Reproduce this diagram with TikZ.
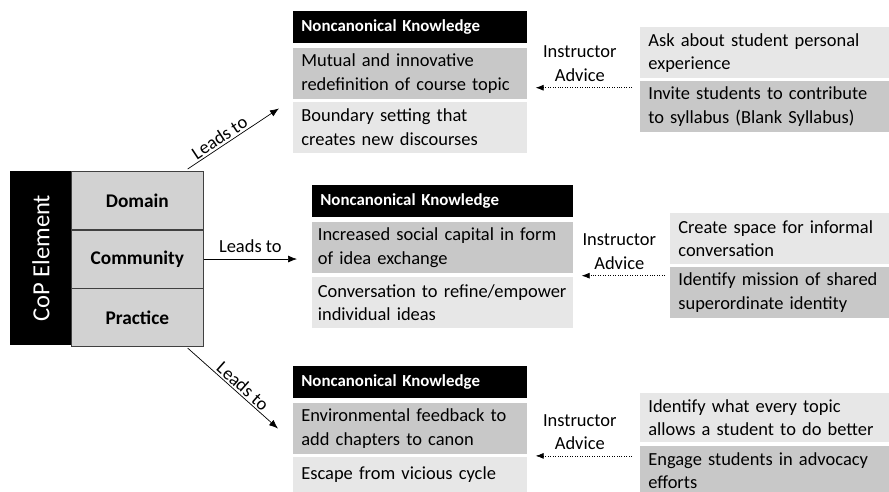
\documentclass[tikz,border=0pt]{standalone}
\usepackage{fontspec}
\setmainfont{Carlito}
\usetikzlibrary{arrows.meta, positioning}
\definecolor{rowDark}{RGB}{200, 200, 200}
\definecolor{rowLight}{RGB}{231, 231, 231}
\definecolor{cellGray}{RGB}{210, 210, 210}
\tikzset{
    % knowledge column
    headbox/.style={
        rectangle,
        fill=black,
        text=white,
        font=\fontsize{9.6}{11}\selectfont\bfseries,
        align=left,
        inner xsep=0.16cm,
        minimum height=0.64cm,
        text width=#1
    },
    darkbox/.style={
        rectangle,
        fill=rowDark,
        font=\fontsize{10.5}{13.4}\selectfont,
        align=left,
        inner xsep=0.16cm,
        minimum height=1.02cm,
        text width=#1
    },
    lightbox/.style={
        darkbox=#1,
        fill=rowLight
    },
    % CoP block
    copcell/.style={
        rectangle,
        draw=black!75,
        fill=cellGray,
        font=\fontsize{11}{13}\selectfont\bfseries,
        minimum width=2.64cm,
        minimum height=1.16cm
    },
    leadarrow/.style={
        -{Latex[length=1.8mm, width=1.4mm]},
        thin,
        font=\fontsize{10.5}{12}\selectfont
    },
    advarrow/.style={
        -{Latex[length=1.6mm, width=1.2mm]},
        densely dotted,
        thin,
        shorten >=0.16cm,
        font=\fontsize{10.5}{13.4}\selectfont
    }
}

\begin{document}
\begin{tikzpicture}[x=0.02cm, y=-0.02cm, node distance=0.04cm]
    \useasboundingbox (0,0) rectangle (889,492);

    % CoP element block
    \node[rectangle, fill=black, anchor=north west, minimum width=1.22cm,
          minimum height=3.48cm, inner sep=0] (cop) at (10,171) {};
    \node[rotate=90, text=white, font=\fontsize{14}{16}\selectfont] (coplabel) at (cop) {CoP Element};
    \node[copcell, anchor=north west] (domain) at (71,171) {Domain};
    \node[copcell, below=0cm of domain] (community) {Community};
    \node[copcell, below=0cm of community] (practice) {Practice};

    % top knowledge group
    \node[headbox=4.36cm, anchor=north west] (hdrA) at (293,11) {Noncanonical Knowledge};
    \node[darkbox=4.36cm, below=0.08cm of hdrA] (kA1) {Mutual and innovative\\redefinition of course topic};
    \node[lightbox=4.36cm, below=of kA1] (kA2) {Boundary setting that\\creates new discourses};
    \node[lightbox=4.66cm, anchor=north west] (advA1) at (640,27) {Ask about student personal\\experience};
    \node[darkbox=4.66cm, below=of advA1] (advA2) {Invite students to contribute\\to syllabus (Blank Syllabus)};

    % middle knowledge group
    \node[headbox=4.9cm, anchor=north west] (hdrB) at (312,185) {Noncanonical Knowledge};
    \node[darkbox=5.0cm, inner xsep=0.11cm, below=0.08cm of hdrB] (kB1) {Increased social capital in form\\of idea exchange};
    \node[lightbox=5.0cm, inner xsep=0.11cm, below=0.06cm of kB1] (kB2) {Conversation to refine/empower\\individual ideas};
    \node[lightbox=4.06cm, anchor=north west] (advB1) at (670,213) {Create space for informal\\conversation};
    \node[darkbox=4.06cm, below=of advB1] (advB2) {Identify mission of shared\\superordinate identity};

    % bottom knowledge group
    \node[headbox=4.36cm, anchor=north west] (hdrC) at (293,366) {Noncanonical Knowledge};
    \node[darkbox=4.36cm, below=0.08cm of hdrC] (kC1) {Environmental feedback to\\add chapters to canon};
    \node[lightbox=4.36cm, minimum height=0.7cm, below=of kC1] (kC2) {Escape from vicious cycle};
    \node[lightbox=4.66cm, minimum height=0.92cm, anchor=north west] (advC1) at (640,393) {Identify what every topic\\allows a student to do better};
    \node[darkbox=4.66cm, minimum height=0.98cm, below=0.08cm of advC1] (advC2) {Engage students in advocacy\\efforts};

    % leads-to arrows
    \draw[leadarrow] ([xshift=-0.32cm,yshift=0.04cm]domain.north east)
        -- node[pos=0.4, above, sloped, inner sep=1pt] {Leads to} ([shift={(-0.28cm,-0.18cm)}]kA1.south west);
    \draw[leadarrow] (community.east)
        -- node[midway, above] {Leads to} ([xshift=-0.3cm]community.east -| kB1.west);
    \draw[leadarrow] ([xshift=-0.32cm,yshift=-0.02cm]practice.south east)
        -- node[pos=0.55, above, sloped, inner sep=1pt] {Leads to} ([xshift=-0.3cm]kC1.west);

    % instructor advice arrows
    \coordinate (advA) at ([xshift=-0.16cm,yshift=-0.14cm]advA2.north west);
    \draw[advarrow] (advA) -- node[midway, above, align=center] {Instructor\\Advice} (advA -| kA1.east);
    \coordinate (advB) at ([xshift=-0.1cm,yshift=-0.18cm]advB2.north west);
    \draw[advarrow] (advB) -- node[midway, above, align=center] {Instructor\\Advice} (advB -| kB1.east);
    \coordinate (advC) at ([xshift=-0.16cm,yshift=-0.2cm]advC2.north west);
    \draw[advarrow] (advC) -- node[midway, above, align=center] {Instructor\\Advice} (advC -| kC1.east);
\end{tikzpicture}
\end{document}
